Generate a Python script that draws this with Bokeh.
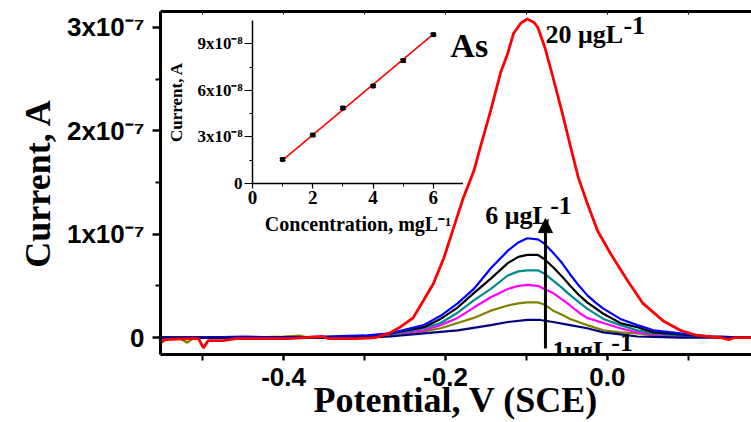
from bokeh.plotting import figure
from bokeh.models import (Range1d, FixedTicker, LinearAxis, Label, Arrow, NormalHead,
                          ColumnDataSource, Whisker, TeeHead, NumeralTickFormatter)
from bokeh.layouts import column
from bokeh.embed import file_html
from bokeh.resources import INLINE

# ---------------- main voltammograms (potential in V, current in 1e-7 A) ----------------
red_x = [-0.552, -0.546, -0.517, -0.505, -0.499, -0.493, -0.475, -0.459, -0.435, -0.394,
         -0.352, -0.344, -0.311, -0.286, -0.270, -0.256, -0.240, -0.227, -0.215, -0.202,
         -0.190, -0.178, -0.165, -0.157, -0.144, -0.132, -0.123, -0.116, -0.107, -0.099,
         -0.091, -0.086, -0.077, -0.067, -0.056, -0.046, -0.036, -0.025, -0.012, 0.004,
         0.025, 0.044, 0.069, 0.090, 0.111, 0.140, 0.150, 0.158, 0.178]
red_y = [-0.05, -0.02, -0.01, -0.01, -0.10, -0.03, -0.03, -0.01, -0.01, -0.01,
         0.01, -0.01, -0.01, 0.00, 0.04, 0.10, 0.19, 0.36, 0.52, 0.77,
         1.06, 1.35, 1.61, 1.84, 2.20, 2.56, 2.75, 2.94, 3.04, 3.08,
         3.05, 3.00, 2.80, 2.51, 2.18, 1.86, 1.55, 1.30, 1.03, 0.81,
         0.55, 0.33, 0.16, 0.07, 0.02, 0.00, -0.02, 0.00, 0.00]

blue_x = [-0.552, -0.50, -0.45, -0.40, -0.35, -0.30, -0.268, -0.227, -0.206, -0.185,
          -0.165, -0.144, -0.123, -0.110, -0.099, -0.086, -0.078, -0.067, -0.056, -0.046,
          -0.035, -0.025, -0.015, -0.005, 0.016, 0.037, 0.057, 0.090, 0.127, 0.178]
blue_y = [0.00, 0.00, 0.01, 0.00, 0.01, 0.02, 0.04, 0.12, 0.21, 0.33,
          0.47, 0.67, 0.84, 0.92, 0.96, 0.95, 0.91, 0.82, 0.72, 0.61,
          0.50, 0.41, 0.34, 0.28, 0.18, 0.12, 0.07, 0.04, 0.01, 0.00]

black_x = [-0.552, -0.45, -0.35, -0.30, -0.268, -0.227, -0.206, -0.185, -0.165, -0.144,
           -0.123, -0.110, -0.099, -0.086, -0.078, -0.067, -0.056, -0.046, -0.035, -0.025,
           -0.005, 0.016, 0.037, 0.057, 0.090, 0.127, 0.178]
black_y = [0.00, 0.00, 0.00, 0.01, 0.04, 0.10, 0.18, 0.29, 0.43, 0.57,
           0.72, 0.78, 0.80, 0.80, 0.76, 0.68, 0.59, 0.50, 0.41, 0.34,
           0.23, 0.14, 0.10, 0.05, 0.03, 0.01, 0.00]

teal_x = [-0.552, -0.45, -0.35, -0.30, -0.268, -0.227, -0.206, -0.185, -0.165, -0.144,
          -0.123, -0.110, -0.099, -0.086, -0.078, -0.067, -0.056, -0.046, -0.035, -0.025,
          -0.005, 0.016, 0.037, 0.057, 0.090, 0.127, 0.178]
teal_y = [0.00, 0.00, 0.00, 0.01, 0.03, 0.09, 0.14, 0.24, 0.36, 0.47,
          0.60, 0.64, 0.65, 0.65, 0.62, 0.55, 0.48, 0.41, 0.34, 0.28,
          0.18, 0.12, 0.07, 0.04, 0.02, 0.01, 0.00]

magenta_x = [-0.552, -0.52, -0.45, -0.35, -0.30, -0.268, -0.227, -0.206, -0.185, -0.165,
             -0.144, -0.123, -0.110, -0.099, -0.086, -0.078, -0.067, -0.056, -0.046, -0.035,
             -0.025, -0.005, 0.016, 0.037, 0.057, 0.090, 0.178]
magenta_y = [-0.02, 0.00, 0.00, 0.00, 0.01, 0.03, 0.07, 0.12, 0.19, 0.29,
             0.39, 0.47, 0.50, 0.51, 0.50, 0.47, 0.43, 0.37, 0.31, 0.24,
             0.19, 0.14, 0.09, 0.05, 0.03, 0.01, 0.00]

olive_x = [-0.552, -0.530, -0.519, -0.510, -0.45, -0.40, -0.380, -0.370, -0.30, -0.268,
           -0.227, -0.206, -0.185, -0.165, -0.144, -0.123, -0.110, -0.099, -0.086, -0.078,
           -0.067, -0.056, -0.046, -0.025, -0.005, 0.016, 0.037, 0.057, 0.090, 0.178]
olive_y = [0.00, 0.00, -0.05, 0.00, 0.00, 0.01, 0.02, 0.00, 0.01, 0.02,
           0.06, 0.09, 0.14, 0.19, 0.26, 0.31, 0.33, 0.34, 0.34, 0.32,
           0.26, 0.22, 0.18, 0.12, 0.07, 0.05, 0.04, 0.02, 0.01, 0.00]

navy_x = [-0.552, -0.45, -0.35, -0.30, -0.268, -0.227, -0.185, -0.144, -0.123, -0.099,
          -0.083, -0.067, -0.046, -0.025, -0.005, 0.016, 0.037, 0.090, 0.178]
navy_y = [0.00, 0.00, 0.00, 0.00, 0.01, 0.04, 0.07, 0.12, 0.15, 0.17,
          0.17, 0.15, 0.12, 0.09, 0.05, 0.03, 0.01, 0.00, 0.00]

y_ticks = [0, 1, 2, 3]
y_tick_labels = ["0", "1x10\u207b\u2077", "2x10\u207b\u2077", "3x10\u207b\u2077"]
x_ticks = [-0.4, -0.2, 0.0]
x_minor = [-0.5, -0.3, -0.1, 0.1]

# ---------------- inset calibration (conc in mg/L, current in 1e-8 A) ----------------
conc = [1, 2, 3, 4, 5, 6]
peak_current = [1.55, 3.12, 4.86, 6.28, 7.92, 9.59]
peak_err = [0.07, 0.07, 0.08, 0.07, 0.08, 0.07]
fit_x = [1, 6]
fit_y = [1.50, 9.62]
inset_y_ticks = [0, 3, 6, 9]
inset_y_labels = ["0", "3x10\u207b\u2078", "6x10\u207b\u2078", "9x10\u207b\u2078"]
inset_x_ticks = [0, 2, 4, 6]

SERIF = "Liberation Serif"
SANS = "Liberation Sans"

p = figure(width=751, height=422, x_range=Range1d(-0.552, 0.178), y_range=Range1d(-0.164, 3.153),
           toolbar_location=None, output_backend="svg", min_border_left=160, min_border_right=0,
           min_border_top=11, min_border_bottom=68)
p.outline_line_color = None
p.xgrid.visible = False
p.ygrid.visible = False

for xs, ys, col, lw in [(olive_x, olive_y, "#808000", 2.2), (magenta_x, magenta_y, "#FF00FF", 2.2),
                        (teal_x, teal_y, "#008B8B", 2.2), (black_x, black_y, "#000000", 2.2),
                        (blue_x, blue_y, "#0000FF", 2.2), (navy_x, navy_y, "#000080", 2.2),
                        (red_x, red_y, "#FF0000", 2.8)]:
    p.line(xs, ys, line_color=col, line_width=lw)

xa = p.xaxis[0]
xa.ticker = FixedTicker(ticks=x_ticks, minor_ticks=x_minor)
xa.formatter = NumeralTickFormatter(format="0.0")
xa.axis_label = "Potential, V (SCE)"
ya = p.yaxis[0]
ya.ticker = FixedTicker(ticks=y_ticks, minor_ticks=[0.5, 1.5, 2.5])
ya.major_label_overrides = dict(zip(y_ticks, y_tick_labels))
ya.axis_label = "Current, A"
for ax in (xa, ya):
    ax.axis_line_width = 3
    ax.major_tick_line_width = 2.5
    ax.minor_tick_line_width = 2
    ax.major_tick_in = 0
    ax.minor_tick_in = 0
    ax.major_label_text_font = SANS
    ax.major_label_text_font_style = "bold"
    ax.major_label_text_font_size = "26px"
    ax.major_label_text_color = "black"
    ax.axis_label_text_font = SERIF
    ax.axis_label_text_font_style = "bold"
    ax.axis_label_text_font_size = "36px"
    ax.axis_label_text_color = "black"
xa.major_tick_out = 6
xa.minor_tick_out = 6
xa.major_label_standoff = 7
xa.axis_label_standoff = -9
ya.major_tick_out = 8
ya.minor_tick_out = 5
ya.major_label_standoff = 8
ya.axis_label_standoff = 6

top = LinearAxis(ticker=FixedTicker(ticks=x_ticks, minor_ticks=x_minor),
                 major_label_text_font_size="1px", major_label_standoff=0,
                 major_label_overrides={t: "" for t in x_ticks},
                 major_tick_in=3, major_tick_out=0, minor_tick_in=3, minor_tick_out=0,
                 axis_line_width=3)
p.add_layout(top, "above")

def add_label(x, y, text, size, x_offset=0):
    p.add_layout(Label(x=x, y=y, text=text, x_offset=x_offset, text_font=SERIF,
                       text_font_style="bold", text_font_size=size, text_color="black",
                       text_baseline="alphabetic"))

add_label(-0.194, 2.82, "As", "34px")
add_label(-0.0765, 2.93, "20 \u03bcgL", "26px")
add_label(-0.0765, 3.02, "-1", "26px", x_offset=78)
add_label(-0.151, 1.18, "6 \u03bcgL", "26px")
add_label(-0.151, 1.28, "-1", "26px", x_offset=65)
add_label(-0.068, -0.126, "1\u03bcgL", "26px")
add_label(-0.068, -0.05, "-1", "26px", x_offset=59)

p.add_layout(Arrow(end=NormalHead(size=14, fill_color="black", line_color="black"),
                   x_start=-0.0765, y_start=-0.107, x_end=-0.0765, y_end=1.15,
                   line_width=3, line_color="black"))

# ---------------- inset ----------------
# Bokeh's column aligns the frames' left/right edges, so the inset uses the same 160 px
# left border; its canvas is shifted so that its frame starts at x=252, y=20.
inset = figure(frame_width=211, frame_height=163, x_range=Range1d(0, 7), y_range=Range1d(0, 10.5),
               toolbar_location=None, output_backend="svg",
               min_border_left=160, min_border_right=0, min_border_top=10, min_border_bottom=60,
               styles={"position": "absolute", "left": "0px", "top": "0px",
                       "transform": "translate(92px, 10px)"})
inset.background_fill_alpha = 0
inset.border_fill_alpha = 0
inset.outline_line_color = None
inset.xgrid.visible = False
inset.ygrid.visible = False

src = ColumnDataSource(dict(x=conc, y=peak_current,
                            lo=[v - e for v, e in zip(peak_current, peak_err)],
                            hi=[v + e for v, e in zip(peak_current, peak_err)]))
inset.line(fit_x, fit_y, line_color="#FF0000", line_width=1.6)
inset.add_layout(Whisker(source=src, base="x", lower="lo", upper="hi", line_color="black",
                         line_width=1.2,
                         upper_head=TeeHead(size=6, line_color="black", line_width=1.2),
                         lower_head=TeeHead(size=6, line_color="black", line_width=1.2)))
inset.scatter("x", "y", source=src, marker="square", size=4, color="black")

ixa = inset.xaxis[0]
ixa.ticker = FixedTicker(ticks=inset_x_ticks, minor_ticks=[1, 3, 5, 7])
ixa.axis_label = "Concentration, mgL\u207b\u00b9"
iya = inset.yaxis[0]
iya.ticker = FixedTicker(ticks=inset_y_ticks, minor_ticks=[1.5, 4.5, 7.5])
iya.major_label_overrides = dict(zip(inset_y_ticks, inset_y_labels))
iya.axis_label = "Current, A"
for ax in (ixa, iya):
    ax.axis_line_width = 1.5
    ax.major_tick_line_width = 1.2
    ax.minor_tick_line_width = 1
    ax.major_tick_in = 0
    ax.major_tick_out = 5
    ax.minor_tick_in = 0
    ax.minor_tick_out = 3
    ax.major_label_text_font = SERIF
    ax.major_label_text_font_style = "bold"
    ax.major_label_text_color = "black"
    ax.axis_label_text_font = SERIF
    ax.axis_label_text_font_style = "bold"
    ax.axis_label_text_color = "black"
ixa.major_label_text_font_size = "19px"
iya.major_label_text_font_size = "17px"
ixa.axis_label_text_font_size = "20px"
iya.axis_label_text_font_size = "17px"
ixa.major_label_standoff = 2
ixa.axis_label_standoff = 6
iya.major_label_standoff = 2
iya.axis_label_standoff = 8
iya.major_tick_out = 8

layout = column(p, inset)
open("out.html", "w").write(file_html(layout, INLINE))
